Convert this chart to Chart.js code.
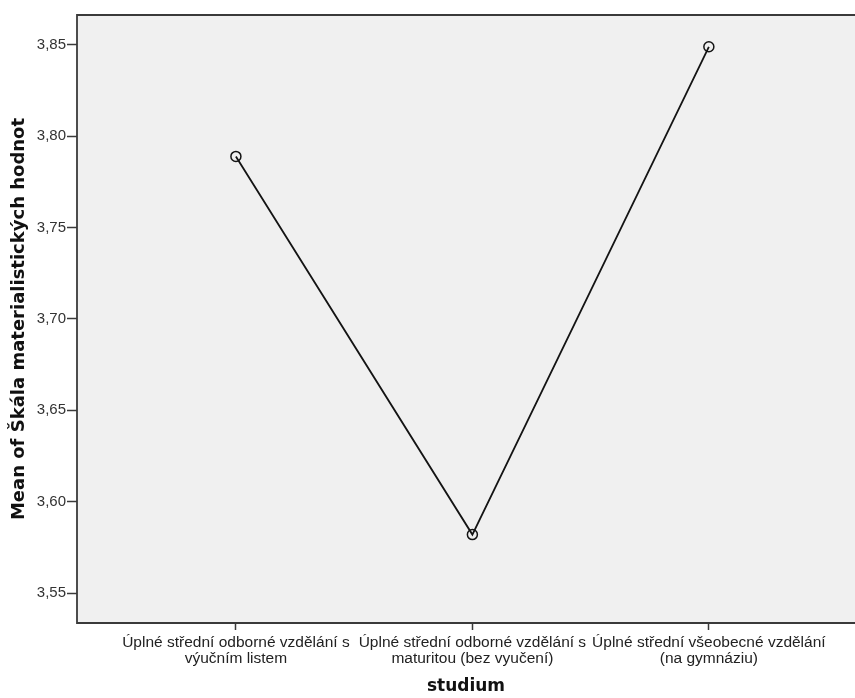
<!DOCTYPE html>
<html>
<head>
<meta charset="utf-8">
<script src="https://cdn.jsdelivr.net/npm/chart.js@4/dist/chart.umd.min.js"></script>
<style>
  body { margin: 0; background: #fff; }
  canvas { display: block; }
</style>
</head>
<body>
<canvas id="meanChart" width="855" height="698"></canvas>
<script>
  // Data
  const categories = [
    ['Úplné střední odborné vzdělání s', 'výučním listem'],
    ['Úplné střední odborné vzdělání s', 'maturitou (bez vyučení)'],
    ['Úplné střední všeobecné vzdělání', '(na gymnáziu)']
  ];
  const means = [3.789, 3.582, 3.849];
  const yTicks = [3.55, 3.60, 3.65, 3.70, 3.75, 3.80, 3.85];
  const xTitle = 'studium';
  const yTitle = 'Mean of Škála materialistických hodnot';

  Chart.defaults.font.family = '"Liberation Sans", Arial, sans-serif';

  // grey plot background + frame (right edge runs off the picture)
  const plotFrame = {
    id: 'plotFrame',
    beforeDraw(chart) {
      const { ctx, chartArea: a } = chart;
      ctx.save();
      ctx.fillStyle = '#f0f0f0';
      ctx.fillRect(a.left, a.top, a.right - a.left, a.bottom - a.top);
      ctx.restore();
    },
    beforeDatasetsDraw(chart) {
      const { ctx, chartArea: a } = chart;
      ctx.save();
      ctx.strokeStyle = '#3a3a3a';
      ctx.lineWidth = 1.8;
      ctx.beginPath();
      ctx.moveTo(a.right, a.top);
      ctx.lineTo(a.left, a.top);
      ctx.lineTo(a.left, a.bottom);
      ctx.lineTo(a.right, a.bottom);
      ctx.stroke();
      ctx.restore();
    }
  };

  new Chart(document.getElementById('meanChart'), {
    type: 'line',
    data: {
      datasets: [{
        data: means.map((v, i) => ({ x: i, y: v })),
        borderColor: '#141414',
        borderWidth: 1.8,
        pointRadius: 5,
        pointBorderWidth: 1.5,
        pointBorderColor: '#141414',
        pointBackgroundColor: 'rgba(0,0,0,0)',
        tension: 0
      }]
    },
    options: {
      responsive: false,
      animation: false,
      layout: { autoPadding: false, padding: { top: 15, right: 0, left: 0, bottom: 0 } },
      plugins: { legend: { display: false }, tooltip: { enabled: false } },
      scales: {
        x: {
          type: 'linear',
          min: -0.672,
          max: 2.618,
          afterBuildTicks: s => { s.ticks = categories.map((c, i) => ({ value: i })); },
          afterFit: s => { s.height = 75; },
          grid: { drawOnChartArea: false, drawTicks: true, tickLength: 7, tickColor: '#3a3a3a', tickWidth: 1.5 },
          border: { display: false },
          ticks: {
            autoSkip: false,
            maxRotation: 0,
            padding: 5,
            color: '#222',
            font: { size: 15.5, lineHeight: '16px' },
            callback: v => categories[v]
          },
          title: {
            display: true,
            text: xTitle,
            color: '#111',
            font: { family: '"DejaVu Sans", sans-serif', size: 17, weight: 'bold' },
            padding: { top: 0, bottom: 1 }
          }
        },
        y: {
          min: 3.5336,
          max: 3.8664,
          afterBuildTicks: s => { s.ticks = yTicks.map(v => ({ value: v })); },
          afterFit: s => { s.width = 77; },
          grid: { drawOnChartArea: false, drawTicks: true, tickLength: 10, tickColor: '#3a3a3a', tickWidth: 1.5 },
          border: { display: false },
          ticks: {
            padding: 1,
            color: '#333',
            font: { size: 15 },
            callback: v => v.toFixed(2).replace('.', ',')
          },
          title: {
            display: true,
            text: yTitle,
            color: '#111',
            font: { family: '"DejaVu Sans", sans-serif', size: 18, weight: 'bold' },
            padding: { top: 9, bottom: 0 }
          }
        }
      }
    },
    plugins: [plotFrame]
  });
</script>
</body>
</html>
